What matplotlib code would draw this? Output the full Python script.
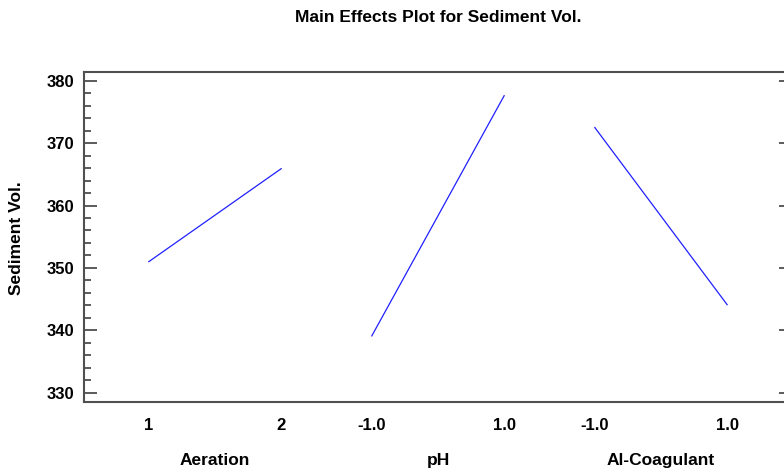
import matplotlib
matplotlib.use("Agg")
import matplotlib.pyplot as plt
from matplotlib.ticker import MultipleLocator, FixedLocator
from matplotlib.transforms import blended_transform_factory

# Factor levels and mean response at the low / high setting of each factor
factors = ["Aeration", "pH", "Al-Coagulant"]
level_labels = [["1", "2"], ["-1.0", "1.0"], ["-1.0", "1.0"]]
low_means = [351.0, 339.1, 372.5]
high_means = [365.9, 377.6, 344.1]

group_step = 1.685  # horizontal offset between factor panels (low->high spans 1)

plt.rcParams["font.family"] = ["Liberation Sans", "DejaVu Sans"]
plt.rcParams["font.weight"] = "bold"

fig = plt.figure(figsize=(7.84, 4.73), dpi=100)
ax = fig.add_axes([0.1071, 0.1501, 0.9031, 0.697])

tick_pos = []
tick_txt = []
for i, name in enumerate(factors):
    x0 = i * group_step
    ax.plot([x0, x0 + 1], [low_means[i], high_means[i]], color="#2020ff", lw=0.9)
    tick_pos += [x0, x0 + 1]
    tick_txt += level_labels[i]

ax.set_xlim(-0.49, 2 * group_step + 1 + 0.49)
ax.set_ylim(328.5, 381.35)

ax.xaxis.set_major_locator(FixedLocator(tick_pos))
ax.set_xticklabels(tick_txt, fontsize=12, fontweight="bold")
ax.tick_params(axis="x", length=0, pad=11.5)

ax.yaxis.set_major_locator(MultipleLocator(10))
ax.yaxis.set_minor_locator(MultipleLocator(2))
ax.tick_params(axis="y", which="major", direction="in", length=9.4, width=1.2,
               color="#404040", right=True, labelsize=12, pad=7)
ax.tick_params(axis="y", which="minor", direction="in", length=5, width=1.2,
               color="#404040", right=False)
for lab in ax.get_yticklabels():
    lab.set_fontweight("bold")

for side in ["top", "bottom", "left", "right"]:
    ax.spines[side].set_color("#505050")
    ax.spines[side].set_linewidth(1.5)

# Factor names beneath each pair of levels
trans = blended_transform_factory(ax.transData, fig.transFigure)
for i, name in enumerate(factors):
    ax.text(i * group_step + 0.5, 1 - 460 / 473, name, transform=trans,
            ha="center", va="center", fontsize=12.5, fontweight="bold")

fig.text(17 / 784, 1 - 238 / 473, "Sediment Vol.", rotation=90,
         ha="center", va="center", fontsize=12.5, fontweight="bold")
fig.text(438 / 784, 1 - 17 / 473, "Main Effects Plot for Sediment Vol.",
         ha="center", va="center", fontsize=12.5, fontweight="bold")

fig.savefig("out.png", dpi=100)
